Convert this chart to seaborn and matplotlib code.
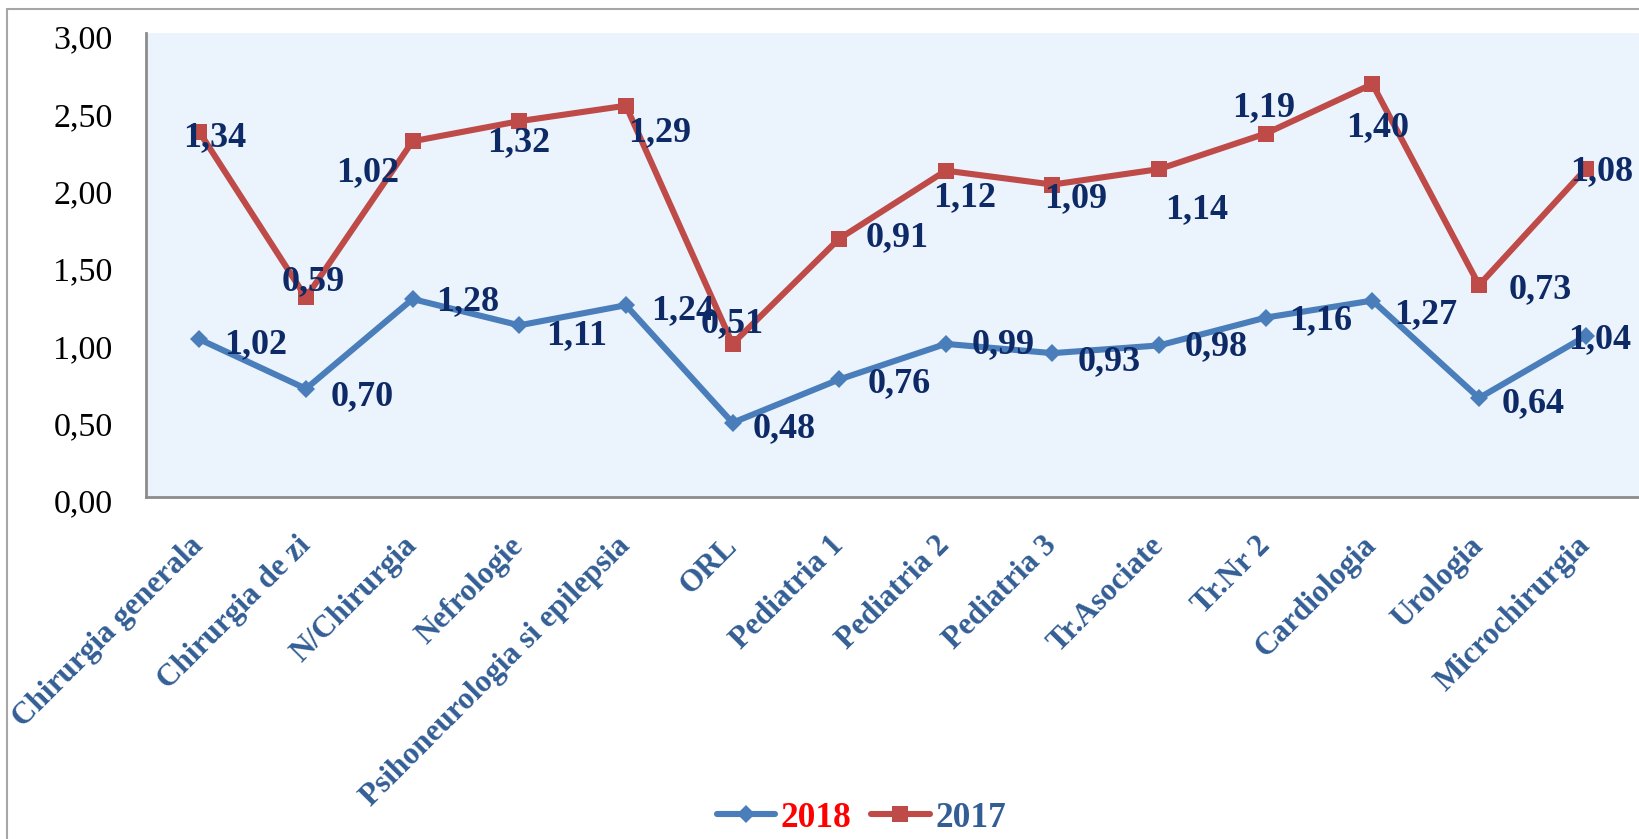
import matplotlib
matplotlib.use("Agg")
import matplotlib.pyplot as plt
import matplotlib.transforms as mtransforms
import seaborn as sns
import pandas as pd
import numpy as np
from matplotlib.patches import Rectangle
from matplotlib.lines import Line2D

categories = ["Chirurgia generala", "Chirurgia de zi", "N/Chirurgia", "Nefrologie",
              "Psihoneurologia si epilepsia", "ORL", "Pediatria 1", "Pediatria 2",
              "Pediatria 3", "Tr.Asociate", "Tr.Nr 2", "Cardiologia", "Urologia",
              "Microchirurgia"]
values_2018 = [1.02, 0.70, 1.28, 1.11, 1.24, 0.48, 0.76, 0.99, 0.93, 0.98, 1.16, 1.27, 0.64, 1.04]
values_2017 = [1.34, 0.59, 1.02, 1.32, 1.29, 0.51, 0.91, 1.12, 1.09, 1.14, 1.19, 1.40, 0.73, 1.08]
y_ticks = [0.0, 0.5, 1.0, 1.5, 2.0, 2.5, 3.0]

# label placement offsets (pixels) – layout only
off_2018 = [(56, -5), (56, -8), (55, -3), (57, -10), (57, -5), (52, -6), (60, -4),
            (57, -1), (57, -8), (57, -1), (55, -3), (53, -14), (54, -6), (14, -3)]
off_2017 = [(15, -6), (7, 16), (-45, -31), (-1, -21), (34, -27), (0, 20), (58, 1),
            (19, -27), (23, -14), (38, -41), (-2, 26), (5, -44), (61, -5), (16, -3)]

sns.set_style("white")
plt.rcParams['font.family'] = ['Liberation Serif', 'DejaVu Serif']

df = pd.DataFrame({"cat": categories, "v2018": values_2018, "v2017": values_2017})
df["stack2017"] = df["v2018"] + df["v2017"]
df["pos"] = np.arange(len(df))

fig = plt.figure(figsize=(16.39, 8.39), dpi=100)
# outer chart border
fig.patches.append(Rectangle((7 / 1639, -0.05), 1.1, 1 - 9 / 839 + 0.05, transform=fig.transFigure,
                             fill=False, edgecolor="#A6A6A6", linewidth=1.5, zorder=0))
ax = fig.add_axes([146 / 1639, 1 - 497 / 839, 1 - 146 / 1639, (497 - 33) / 839])
ax.set_facecolor("#EBF3FD")

blue = "#4A7EBB"
red = "#BE4B48"
sns.lineplot(data=df, x="pos", y="v2018", ax=ax, color=blue, linewidth=4.4,
             marker="D", markersize=9, markeredgewidth=0, sort=False)
sns.lineplot(data=df, x="pos", y="stack2017", ax=ax, color=red, linewidth=4.4,
             marker="s", markersize=11, markeredgewidth=0, sort=False)

lab_color = "#0E2A66"
for i in range(len(df)):
    ax.annotate(f"{values_2018[i]:.2f}".replace(".", ","), (df["pos"][i], df["v2018"][i]),
                xytext=off_2018[i], textcoords="offset pixels", ha="center", va="center",
                fontsize=26, fontweight="bold", color=lab_color, annotation_clip=False)
    ax.annotate(f"{values_2017[i]:.2f}".replace(".", ","), (df["pos"][i], df["stack2017"][i]),
                xytext=off_2017[i], textcoords="offset pixels", ha="center", va="center",
                fontsize=26, fontweight="bold", color=lab_color, annotation_clip=False)

ax.set_xlim(-0.5, len(categories) - 0.5)
ax.set_ylim(0, 3)
ax.set_yticks(y_ticks)
ax.set_yticklabels([f"{t:.2f}".replace(".", ",") for t in y_ticks], fontsize=24.5, color="black")
ax.set_xticks(df["pos"])
ax.set_xticklabels(categories, rotation=45, ha="right", va="center", rotation_mode="anchor",
                   fontsize=22.5, fontweight="bold", color="#335E95")
ax.tick_params(axis="y", length=0, pad=24)
ax.tick_params(axis="x", length=0, pad=32)
shift = mtransforms.ScaledTranslation(0, -4 / 100, fig.dpi_scale_trans)
for lab in ax.get_yticklabels():
    lab.set_transform(lab.get_transform() + shift)
ax.set_xlabel("")
ax.set_ylabel("")
for s in ["top", "right"]:
    ax.spines[s].set_visible(False)
for s in ["left", "bottom"]:
    ax.spines[s].set_color("#8C8C8C")
    ax.spines[s].set_linewidth(2)

handles = [Line2D([], [], color=blue, linewidth=4.4, marker="D", markersize=9, markeredgewidth=0),
           Line2D([], [], color=red, linewidth=4.4, marker="s", markersize=11, markeredgewidth=0)]
leg = fig.legend(handles, ["2018", "2017"], loc="center", bbox_to_anchor=(0.5256, 0.025),
                 ncol=2, frameon=False, prop={"size": 25.5, "weight": "bold"},
                 handlelength=1.65, handletextpad=0.17, columnspacing=0.55)
leg.get_texts()[0].set_color("#FF0000")
leg.get_texts()[1].set_color("#335E95")

fig.savefig("out.png", dpi=100)
